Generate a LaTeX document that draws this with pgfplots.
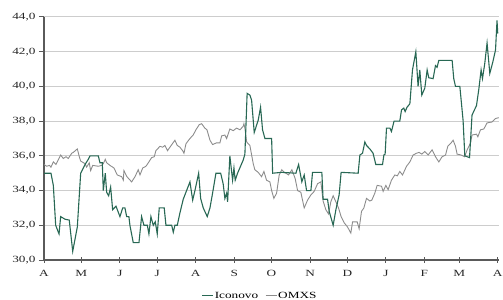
\documentclass[border=0pt]{standalone}
\usepackage{fontspec}
\setmainfont[FakeStretch=1.4]{Liberation Serif}
\usepackage{pgfplots}
\pgfplotsset{compat=1.18}
\usepackage{pgfplotstable}
\definecolor{icgreen}{RGB}{40,104,84}
\definecolor{omxgray}{RGB}{140,140,140}
\definecolor{gridgray}{RGB}{205,205,205}
\definecolor{axisgray}{RGB}{90,90,90}

\pgfplotstableread{
d v
0 35.0
5.6 35.0
7.5 34.3
9.4 32.0
12.1 31.5
13.4 32.5
16.9 32.35
20.3 32.3
23.1 30.5
26.8 31.9
29.5 35.0
33.0 35.5
35.6 35.8
37.0 36.0
43.7 36.0
45.0 35.6
46.9 35.6
47.7 34.0
49.3 35.0
50.4 33.9
52.0 33.7
53.6 34.2
55.2 32.9
57.9 33.1
61.1 32.5
63.3 33.0
65.1 33.0
66.5 32.5
68.3 32.5
69.1 32.0
71.8 31.0
76.4 31.0
78.5 32.5
80.4 32.0
83.1 32.0
84.4 31.5
86.0 32.5
87.9 32.0
89.5 32.2
91.1 31.5
92.7 33.0
96.7 33.0
98.1 32.0
102.7 32.0
104.0 31.6
105.3 32.0
107.2 32.0
109.3 32.7
112.0 33.5
114.7 34.0
117.4 34.5
119.6 33.45
121.4 34.0
124.4 35.0
126.0 33.55
128.1 33.0
131.3 32.5
133.5 33.0
135.6 33.85
138.3 35.0
142.1 35.0
144.1 34.4
145.5 33.55
146.9 33.85
147.7 33.35
149.5 36.0
151.7 34.6
152.8 35.3
153.8 34.6
155.7 35.0
158.1 35.4
160.2 35.75
161.6 36.1
163.4 39.6
165.6 39.5
167.0 39.2
169.1 37.35
172.3 38.05
174.2 38.8
175.8 37.5
177.7 37.0
183.1 37.0
183.9 35.0
191.3 35.05
202.6 35.0
204.8 35.5
207.4 34.5
209.3 34.9
211.2 34.0
214.7 34.0
216.0 35.05
223.5 35.05
224.5 33.5
228.1 33.5
229.4 32.8
232.6 32.0
234.8 32.9
237.4 33.75
239.0 35.05
252.7 35.0
254.1 36.05
256.2 36.15
258.1 36.8
259.4 36.6
262.1 36.4
264.7 36.15
266.9 35.5
272.3 35.5
273.4 36.05
274.4 36.1
275.5 37.6
278.2 37.6
279.5 37.4
281.6 38.0
286.2 38.0
287.6 38.65
289.4 38.75
290.5 38.55
292.0 38.8
294.3 39.0
296.4 40.95
299.1 42.0
300.9 40.0
302.3 40.95
303.9 39.5
306.3 39.9
308.2 40.95
309.5 40.5
313.0 40.45
314.9 41.2
316.2 41.1
317.6 41.5
328.3 41.5
329.6 40.45
331.0 40.0
334.5 40.0
337.1 38.05
338.5 36.0
342.3 35.9
344.3 38.35
347.9 38.9
349.7 39.8
351.6 40.95
352.7 40.45
354.5 41.3
356.4 42.5
358.6 40.75
361.0 41.4
363.2 42.1
364.4 43.8
365.0 43.05
}\iconovo

\pgfplotstableread{
d v
0 35.5
2.2 35.4
4.3 35.45
5.6 35.35
7.5 35.65
9.6 35.5
13.4 36.05
15.5 35.85
17.7 35.95
19.5 35.85
22.3 36.15
23.6 36.2
26.8 36.4
28.4 35.95
29.5 35.7
33.0 35.55
34.3 35.35
36.4 35.6
37.5 35.15
39.2 35.45
43.7 35.4
46.4 35.45
47.7 35.55
49.3 35.8
50.4 35.6
53.1 35.45
56.3 35.3
58.9 34.9
62.5 34.8
63.8 34.6
64.3 35.15
66.7 34.8
70.5 34.5
73.2 34.8
75.8 35.2
77.2 34.9
79.4 35.3
82.0 35.4
83.9 35.6
86.6 35.9
88.7 35.95
90.0 36.3
93.3 36.55
95.4 36.5
97.3 36.6
99.4 36.3
101.3 36.5
105.3 36.9
107.2 36.6
109.3 36.5
111.5 36.3
112.6 36.15
114.2 36.7
117.4 37.0
120.0 37.2
122.2 37.5
124.9 37.8
126.8 37.85
129.4 37.6
131.1 37.5
133.5 36.9
135.6 36.65
138.8 36.75
141.5 36.75
142.9 37.15
145.5 37.2
146.9 37.0
149.5 37.55
152.2 37.45
154.9 37.6
157.6 37.5
160.2 37.7
160.8 37.85
161.6 37.6
163.0 36.8
165.6 36.6
168.3 35.55
169.6 35.2
172.3 35.05
175.0 34.8
176.9 35.1
179.0 34.6
181.7 34.5
183.1 34.0
184.9 33.55
187.1 33.85
189.2 34.9
191.3 35.2
193.2 35.05
194.6 35.0
196.7 34.9
199.4 35.2
202.0 34.7
204.0 34.0
206.6 33.9
209.3 33.0
212.0 33.45
214.7 33.75
217.3 33.95
220.1 34.4
222.7 34.5
224.5 33.4
226.7 32.9
228.9 32.65
230.7 33.35
232.6 33.7
234.8 33.35
236.9 33.0
239.0 32.5
241.4 32.15
244.2 31.9
246.8 31.55
248.2 32.2
251.9 32.2
253.5 31.8
255.4 32.8
257.3 33.0
259.4 33.55
262.1 33.4
263.7 33.45
266.1 33.85
268.0 34.3
271.5 34.25
272.8 33.95
275.0 34.3
276.8 34.05
279.5 34.6
282.2 34.9
284.2 34.85
286.2 35.1
288.4 34.9
291.6 35.4
294.3 35.65
296.9 36.05
299.6 36.15
301.7 36.2
303.9 36.1
306.3 36.25
309.0 36.05
312.2 36.35
314.9 35.95
317.6 35.65
320.2 35.95
323.0 36.05
324.8 36.55
327.5 36.75
329.1 36.9
331.0 36.55
332.3 36.1
335.5 36.05
338.3 35.95
340.4 36.35
343.1 36.75
344.3 37.2
347.9 37.25
349.0 37.1
351.1 37.5
353.8 37.55
356.4 37.9
360.4 37.95
363.2 38.15
365.8 38.2
}\omxs

\begin{document}
\begin{tikzpicture}
\path[use as bounding box] (-44bp,-40bp) rectangle (459bp,260bp);
\begin{axis}[
  at={(0,0)}, anchor=south west,
  scale only axis, width=455bp, height=243bp,
  xmin=0, xmax=366, ymin=30, ymax=44,
  axis x line*=bottom, axis y line*=left,
  axis line style={axisgray, line width=1.2bp},
  ytick={30,32,34,36,38,40,42,44},
  ymajorgrids, grid style={gridgray, line width=1bp},
  xtick={0,30,61,91,122,153,183,214,244,275,306,334,365},
  xticklabels={A,M,J,J,A,S,O,N,D,J,F,M,A},
  major tick length=5bp,
  every tick/.style={axisgray, line width=1bp},
  xtick align=center, ytick align=outside,
  tick label style={font=\fontsize{9.5}{11}\selectfont, text=black!85},
  yticklabel style={/pgf/number format/.cd, use comma, fixed, fixed zerofill, precision=1, assume math mode=true},
  xticklabel style={yshift=-4bp},
  legend columns=2,
  legend style={at={(0.474,-0.148)}, anchor=center, draw=none, fill=none,
    font=\fontsize{9.5}{11}\selectfont,
    /tikz/every even column/.append style={column sep=6bp},
    nodes={inner sep=1bp}},
  legend image code/.code={\draw[#1, line width=1bp] (0bp,0bp) -- (11bp,0bp);},
]
\addplot[omxgray, line width=0.9bp, forget plot] table[x=d, y=v] {\omxs};
\addplot[icgreen, line width=1.1bp] table[x=d, y=v] {\iconovo};
\addlegendentry{Iconovo}
\addlegendimage{omxgray, line width=1bp}
\addlegendentry{OMXS}
\end{axis}
\end{tikzpicture}
\end{document}
